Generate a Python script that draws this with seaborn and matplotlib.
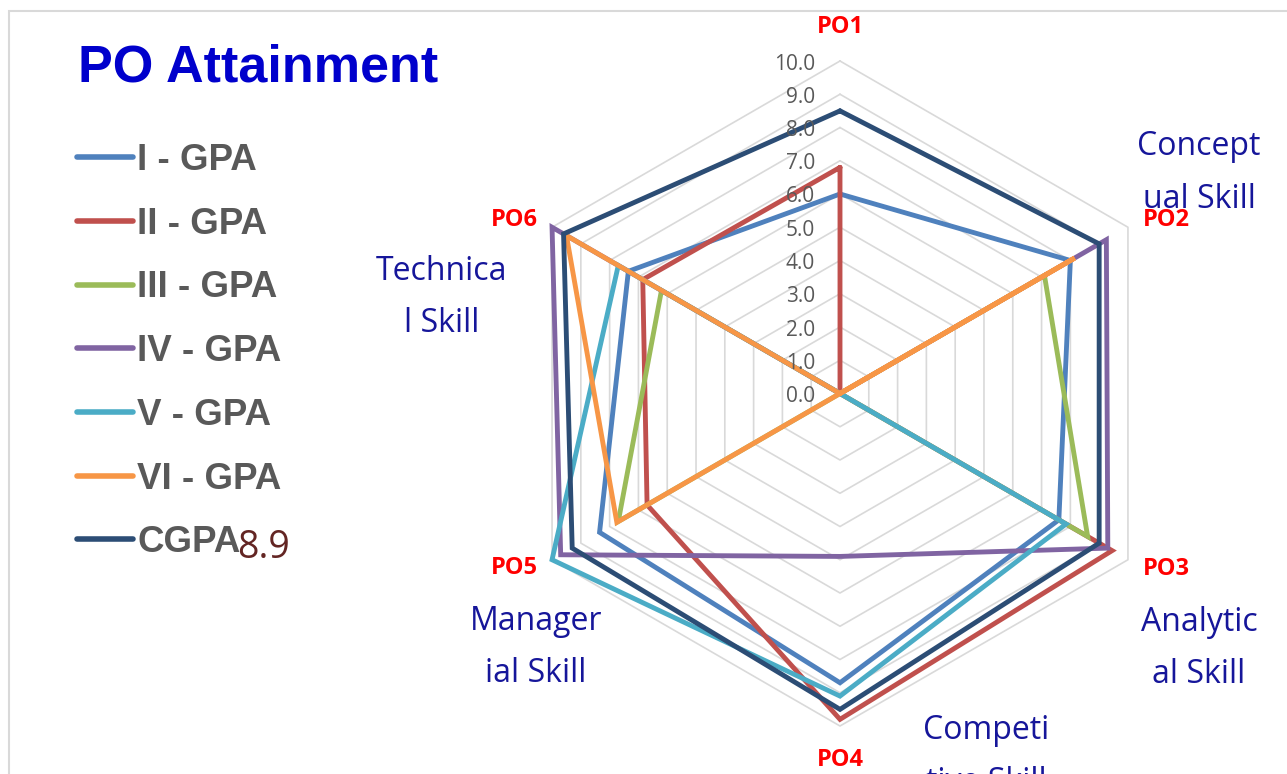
import numpy as np
import pandas as pd
import matplotlib
matplotlib.use("Agg")
import matplotlib.pyplot as plt
import seaborn as sns
from matplotlib.lines import Line2D
from matplotlib.patches import Rectangle
from matplotlib.font_manager import FontProperties

# ---------------- data ----------------
categories = ["PO1", "PO2", "PO3", "PO4", "PO5", "PO6"]
series_names = ["I - GPA", "II - GPA", "III - GPA", "IV - GPA", "V - GPA", "VI - GPA", "CGPA"]
gpa_1 = [6.0, 8.0, 7.6, 8.7, 8.35, 7.35]
gpa_2 = [6.8, 0.0, 9.45, 9.8, 6.7, 6.85]
gpa_3 = [0.0, 7.1, 8.6, 0.0, 7.7, 6.2]
gpa_4 = [0.0, 9.25, 9.3, 4.9, 9.7, 10.0]
gpa_5 = [0.0, 0.0, 7.85, 9.1, 10.0, 7.7]
gpa_6 = [0.0, 8.15, 0.0, 0.0, 7.75, 9.5]
cgpa = [8.5, 9.0, 9.0, 9.5, 9.3, 9.6]
tick_values = [0, 1, 2, 3, 4, 5, 6, 7, 8, 9, 10]
tick_labels = ["0.0", "1.0", "2.0", "3.0", "4.0", "5.0", "6.0", "7.0", "8.0", "9.0", "10.0"]
skill_labels = ["Concept\nual Skill", "Analytic\nal Skill", "Competi\ntive Skill",
                "Manager\nial Skill", "Technica\nl Skill"]
title_text = "PO Attainment"
stray_label = "8.9"

colors = ["#4F81BD", "#C0504D", "#9BBB59", "#8064A2", "#4BACC6", "#F79646", "#2C4D75"]

# ---------------- build long table ----------------
all_series = [gpa_1, gpa_2, gpa_3, gpa_4, gpa_5, gpa_6, cgpa]
n = len(categories)
angles = [2 * np.pi * i / n for i in range(n)]
rows = []
for name, vals in zip(series_names, all_series):
    for i in range(n + 1):
        rows.append({"series": name, "theta": 2 * np.pi * i / n, "value": vals[i % n], "order": i})
df = pd.DataFrame(rows)

# ---------------- figure ----------------
sns.set_theme(style="white")
plt.rcParams["font.family"] = ["Open Sans", "DejaVu Sans"]

W, H = 1287, 774
fig = plt.figure(figsize=(W / 100, H / 100), dpi=100)
fig.patch.set_facecolor("white")

def fx(x):
    return x / W

def fy(y):
    return 1 - y / H

cx, cy, R = 840, 393.5, 332.5
ax = fig.add_axes([fx(cx - R), fy(cy + R), 2 * R / W, 2 * R / H], projection="polar")
ax.set_theta_offset(np.pi / 2)
ax.set_theta_direction(-1)
ax.patch.set_alpha(0)
ax.grid(False)
ax.spines["polar"].set_visible(False)

# hexagonal gridlines
closed_angles = angles + [angles[0]]
for v in tick_values[1:]:
    ax.plot(closed_angles, [v] * (n + 1), color="#D9D9D9", lw=1.2, zorder=1, clip_on=False)

sns.lineplot(data=df, x="theta", y="value", hue="series", hue_order=series_names,
             palette=colors, sort=False, estimator=None, lw=3.5, ax=ax, legend=False,
             solid_joinstyle="miter", clip_on=False, zorder=3)

ax.set_ylim(0, 10)
ax.set_xticks([])
ax.set_yticks([])
ax.set_xlabel("")
ax.set_ylabel("")

# radial tick labels along PO1 axis
for v, lab in zip(tick_values, tick_labels):
    ax.annotate(lab, xy=(0, v), xytext=(-25, -3), textcoords="offset pixels",
                ha="right", va="center", fontsize=15, color="#595959",
                annotation_clip=False)

# category labels
po_offsets = [(0, 34, "center"), (15, 7, "left"), (15, -9, "left"),
              (0, -34, "center"), (-14, -8, "right"), (-14, 7, "right")]
for ang, lab, (dx, dy, ha) in zip(angles, categories, po_offsets):
    ax.annotate(lab, xy=(ang, 10), xytext=(dx, dy), textcoords="offset pixels",
                ha=ha, va="center", fontsize=17, fontweight="bold", color="#FF0000",
                annotation_clip=False)

# skill text boxes
skill_pos = [(1199, 173), (1199, 648.5), (986, 756.5), (536, 647.5), (442, 297.5)]
for lab, (x, y) in zip(skill_labels, skill_pos):
    fig.text(fx(x), fy(y), lab, ha="center", va="center", multialignment="center",
             fontsize=23, color="#16169A", linespacing=1.78)

# title
fig.text(fx(78), fy(82), title_text, ha="left", va="baseline",
         fontsize=37.5, fontweight="bold", color="#0000CC", family="Liberation Sans")

# legend
handles = [Line2D([0], [0], color=c, lw=4, solid_capstyle="round") for c in colors]
leg = fig.legend(handles, series_names, loc="upper left",
                 bbox_to_anchor=(fx(77), fy(143)), frameon=False,
                 prop=FontProperties(family="Liberation Sans", weight="bold", size=26.5),
                 labelcolor="#595959", handlelength=1.52, handletextpad=0.12,
                 labelspacing=0.78, borderpad=0, borderaxespad=0)

# stray value label
fig.text(fx(237), fy(558), stray_label, ha="left", va="baseline",
         fontsize=27, color="#632523")

# outer chart frame
fig.patches.append(Rectangle((fx(9), -0.1), 1.2, fy(11) + 0.1, transform=fig.transFigure,
                             fill=False, ec="#D9D9D9", lw=1.5))

fig.savefig("out.png", dpi=100)
